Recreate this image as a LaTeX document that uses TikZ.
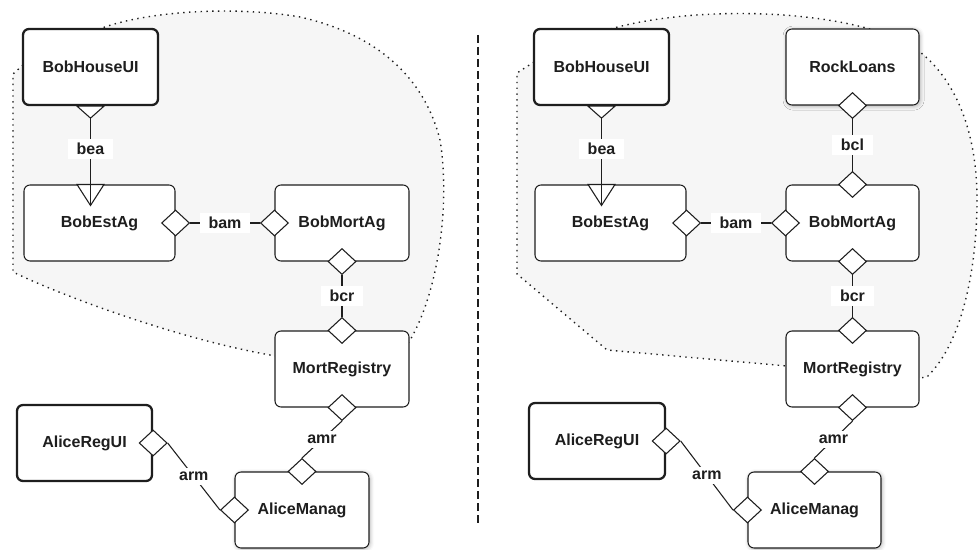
\documentclass[tikz,border=0pt]{standalone}
\usepackage{fontspec}
\setmainfont{Liberation Sans}
\usetikzlibrary{shapes.geometric,calc,shadows.blur}
\definecolor{ink}{HTML}{1E1E1E}
\definecolor{zone}{RGB}{246,246,246}
\begin{document}
\begin{tikzpicture}[x=0.75pt,y=-0.75pt,
  every node/.style={font=\fontsize{12}{14}\selectfont\bfseries, text=ink},
  comp/.style={draw=ink, fill=white, rounded corners=4.5pt, line width=0.8pt, minimum height=57pt, inner sep=0pt},
  ui/.style={comp, line width=1.7pt},
  dia/.style={diamond, draw=ink, fill=white, line width=0.8pt, minimum width=21pt, minimum height=19.5pt, inner sep=0pt},
  tri/.style={draw=ink, fill=white, line width=0.8pt, line join=miter},
  conn/.style={draw=ink, line width=0.8pt},
  lbl/.style={fill=white, inner xsep=6.5pt, inner ysep=3pt},
  region/.style={fill=zone, draw=ink, line width=1.05pt, dash pattern=on 1.05pt off 3.3pt},
  shade/.style={blur shadow={shadow xshift=0.8pt, shadow yshift=-0.8pt, shadow blur radius=3pt, shadow opacity=30}}
]
\useasboundingbox (0,0) rectangle (980,549);

% ---------- regions ----------
\path[region] (23,65) -- (13,74) -- (13,272)
  .. controls (60,295) and (180,340) .. (276,356) -- (409,342)
  .. controls (440,290) and (450,200) .. (440,140)
  .. controls (425,80) and (380,35) .. (300,17)
  .. controls (230,5) and (140,12) .. (97,30) -- cycle;
\path[region] (534,62) -- (517,73) -- (517,274) -- (607,350) -- (787,366)
  -- (919,378) -- (927,377)
  .. controls (965,340) and (977,260) .. (977,200)
  .. controls (977,130) and (955,80) .. (920,52) -- (873,30)
  .. controls (800,8) and (680,8) .. (607,30) -- cycle;

% ---------- divider ----------
\coordinate (divtop) at (478,35);
\coordinate (divbot) at (478,525);
\draw[ink, line width=0.8pt, dash pattern=on 6pt off 3pt] (divtop) -- (divbot);

% ---------- left panel boxes ----------
\node[ui, minimum width=101.25pt] (bhui) at (90.5,67) {BobHouseUI};
\node[comp, minimum width=113.25pt] (best) at (99.5,223) {BobEstAg};
\node[comp, minimum width=100.5pt] (bmort) at (342,223) {BobMortAg};
\node[comp, minimum width=100.5pt] (mreg) at (342,369) {MortRegistry};
\node[comp, shade, minimum width=100.5pt] (aman) at (302,510) {AliceManag};
\node[ui, minimum width=101.25pt] (aregui) at (84.5,443) {AliceRegUI};

% ---------- right panel boxes ----------
\node[ui, minimum width=101.25pt] (bhuiR) at (601.5,67) {BobHouseUI};
\node[comp, shade, minimum width=99.75pt] (rock) at (852.5,67) {RockLoans};
\node[comp, minimum width=113.25pt] (bestR) at (610.5,223) {BobEstAg};
\node[comp, minimum width=99.75pt] (bmortR) at (852.5,223) {BobMortAg};
\node[comp, minimum width=99.75pt] (mregR) at (852.5,369) {MortRegistry};
\node[comp, shade, minimum width=99.75pt] (amanR) at (814.5,510) {AliceManag};
\node[ui, minimum width=102pt] (areguiR) at (597,441) {AliceRegUI};

% ---------- left: bea (triangles) ----------
\coordinate (ta) at ($(bhui.south)+(0,12)$);
\coordinate (tbb) at (bhui.south |- best.north);
\coordinate (tb) at ($(tbb)+(0,21)$);
\draw[tri] ($(bhui.south)+(-13.5,0)$) -- (ta) -- ($(bhui.south)+(13.5,0)$) -- cycle;
\draw[tri] ($(tbb)+(-13.5,0)$) -- (tb) -- ($(tbb)+(13.5,0)$) -- cycle;
\draw[conn] (ta) -- (tb) node[lbl, pos=0.35] {bea};

% ---------- right: bea (triangles) ----------
\coordinate (taR) at ($(bhuiR.south)+(0,12)$);
\coordinate (tbbR) at (bhuiR.south |- bestR.north);
\coordinate (tbR) at ($(tbbR)+(0,21)$);
\draw[tri] ($(bhuiR.south)+(-13.5,0)$) -- (taR) -- ($(bhuiR.south)+(13.5,0)$) -- cycle;
\draw[tri] ($(tbbR)+(-13.5,0)$) -- (tbR) -- ($(tbbR)+(13.5,0)$) -- cycle;
\draw[conn] (taR) -- (tbR) node[lbl, pos=0.35] {bea};

% ---------- left diamonds ----------
\node[dia] (dEst) at (best.east) {};
\node[dia] (dMortW) at (bmort.west) {};
\node[dia] (dMortS) at (bmort.south) {};
\node[dia] (dRegN) at (mreg.north) {};
\node[dia] (dRegS) at (mreg.south) {};
\node[dia] (dAmanN) at (aman.north) {};
\node[dia] (dAmanW) at (aman.west) {};
\node[dia] (dUI) at (aregui.east) {};

% ---------- right diamonds ----------
\node[dia] (dRockS) at (rock.south) {};
\node[dia] (dMortNR) at (bmortR.north) {};
\node[dia] (dEstR) at (bestR.east) {};
\node[dia] (dMortWR) at (bmortR.west) {};
\node[dia] (dMortSR) at (bmortR.south) {};
\node[dia] (dRegNR) at (mregR.north) {};
\node[dia] (dRegSR) at (mregR.south) {};
\node[dia] (dAmanNR) at (amanR.north) {};
\node[dia] (dAmanWR) at (amanR.west) {};
\node[dia] (dUIR) at (areguiR.east) {};

% ---------- left connectors ----------
\draw[conn] (dEst.east) -- (dMortW.west) node[lbl, midway] {bam};
\draw[conn] (dMortS.south) -- (dRegN.north) node[lbl, midway] {bcr};
\draw[conn] (dRegS.south) -- (dAmanN.north) node[lbl, midway, inner xsep=3pt] {amr};
\draw[conn] (dUI.east) -- (dAmanW.west) node[lbl, midway, inner xsep=3pt] {arm};

% ---------- right connectors ----------
\draw[conn] (dRockS.south) -- (dMortNR.north) node[lbl, midway] {bcl};
\draw[conn] (dEstR.east) -- (dMortWR.west) node[lbl, midway] {bam};
\draw[conn] (dMortSR.south) -- (dRegNR.north) node[lbl, midway] {bcr};
\draw[conn] (dRegSR.south) -- (dAmanNR.north) node[lbl, midway, inner xsep=3pt] {amr};
\draw[conn] (dUIR.east) -- (dAmanWR.west) node[lbl, midway, inner xsep=3pt] {arm};
\end{tikzpicture}
\end{document}
